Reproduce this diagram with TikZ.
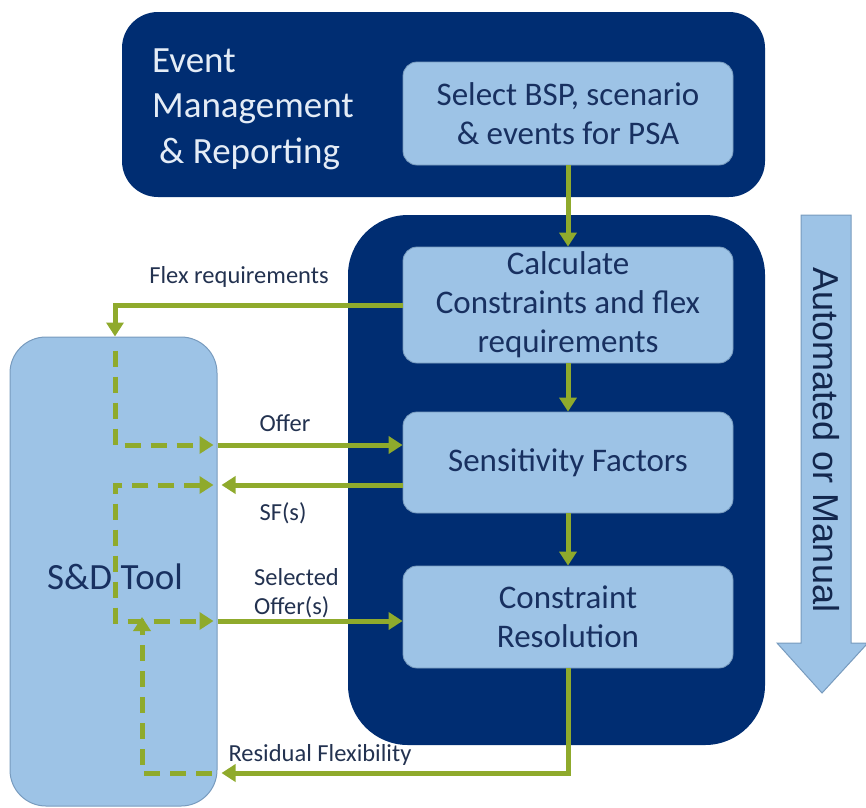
\documentclass[tikz,border=0pt]{standalone}
\usepackage{fontspec}
\setmainfont{Carlito}
\newfontfamily\arialfont{Liberation Sans}
\usetikzlibrary{arrows.meta,calc}
\definecolor{navy}{RGB}{0,45,114}
\definecolor{lightblue}{RGB}{157,195,230}
\definecolor{boxedge}{RGB}{120,155,190}
\definecolor{txtnavy}{RGB}{24,48,96}
\definecolor{lbltxt}{RGB}{35,50,80}
\definecolor{evtxt}{RGB}{228,236,246}
\definecolor{grn}{RGB}{143,170,44}
\tikzset{
  darkbox/.style={fill=navy, draw=none, inner sep=0pt},
  lightbox/.style={fill=lightblue, draw=boxedge, line width=0.8pt, rounded corners=14pt,
     minimum width=330pt, inner sep=0pt, align=center, text=txtnavy,
     font=\fontsize{33}{39}\selectfont},
  lbl/.style={text=lbltxt, font=\fontsize{24.5}{29}\selectfont, inner sep=0pt},
  evstyle/.style={text=evtxt, font=\fontsize{37}{44}\selectfont, inner sep=0pt, anchor=base west},
  garrow/.style={draw=grn, line width=5pt, -{Triangle[length=14pt,width=17pt]}},
  gdash/.style={draw=grn, line width=5pt, dash pattern=on 16pt off 10pt, -{Triangle[length=14pt,width=17pt]}},
}
\begin{document}
\begin{tikzpicture}[x=1pt,y=-1pt]
\useasboundingbox (0,0) rectangle (866,807);
% background boxes
\node[darkbox, rounded corners=36pt, minimum width=643pt, minimum height=185pt] (ev) at (443.5,104.5) {};
\node[darkbox, rounded corners=60pt, minimum width=417pt, minimum height=530pt] (proc) at (556.5,480) {};
% S&D tool
\node[fill=lightblue, draw=boxedge, line width=1pt, rounded corners=36pt, minimum width=207pt, minimum height=469pt, inner sep=0pt] (sd) at (113.5,571.5) {};
\node[text=txtnavy, font=\fontsize{37}{44}\selectfont, inner sep=0pt] (sdt) at (115,577) {S\&D Tool};
% big arrow
\path[fill=lightblue, draw=boxedge, line width=1pt] (801,215) -- (851,215) -- (851,643) -- (866,643) -- (866,645) -- (822,693) -- (777,643) -- (801,643) -- cycle;
\node[rotate=-90, text=txtnavy!80!black, font=\arialfont\fontsize{36}{42}\selectfont, inner sep=0pt] (am) at (826,440) {Automated or Manual};
% event text
\node[evstyle] (ev1) at (152,72) {Event};
\node[evstyle] (ev2) at (152,117) {Management};
\node[evstyle] (ev3) at (159,163) {\& Reporting};
% process boxes
\node[lightbox, minimum height=103pt] (sel) at (568,113.5) {Select BSP, scenario\\\& events for PSA};
\node[lightbox, minimum height=116pt] (calc) at (568,305) {Calculate\\Constraints and flex\\requirements};
\node[lightbox, minimum height=101pt] (sens) at (568,462.5) {Sensitivity Factors};
\node[lightbox, minimum height=102pt] (cons) at (568,617) {Constraint\\Resolution};
% labels
\node[lbl] (lflex) at (239,277) {Flex requirements};
\node[lbl] (loffer) at (285,423) {Offer};
\node[lbl] (lsf) at (283,513) {SF(s)};
\node[lbl, anchor=west, align=left] (lsel) at (254,593) {Selected\\Offer(s)};
\node[lbl] (lres) at (320,755) {Residual Flexibility};
% coordinates
\coordinate (offY) at (0,445);
\coordinate (sfY) at (0,485);
\coordinate (selY) at (0,621);
\coordinate (resY) at (0,773);
\coordinate (dx) at (115,0);
\coordinate (rx) at (142,0);
% main flow
\draw[garrow] (sel.south) -- (calc.north);
\draw[garrow] (calc.south) -- (sens.north);
\draw[garrow] (sens.south) -- (cons.north);
% flex requirements
\draw[garrow] (calc.west) -| (sd.north -| dx);
% offer
\draw[garrow] (sd.east |- offY) -- (sens.west |- offY);
% SF(s)
\draw[garrow] (sens.west |- sfY) -- ([xshift=4pt]sd.east |- sfY);
% selected offers
\draw[garrow] (sd.east |- selY) -- (cons.west |- selY);
% residual
\draw[garrow] (cons.south) |- ([xshift=4pt]sd.east |- resY);
% dashed inside S&D
\draw[gdash] ([yshift=-14pt]sd.north -| dx) |- ([xshift=-4pt]sd.east |- offY);
\draw[gdash, {Triangle[length=14pt,width=17pt]}-{Triangle[length=14pt,width=17pt]}] ([xshift=-4pt]sd.east |- sfY) -| (dx |- selY) -- ([xshift=-4pt]sd.east |- selY);
\draw[gdash] ([xshift=-6pt]sd.east |- resY) -| ([yshift=4pt]rx |- selY);
\end{tikzpicture}
\end{document}
